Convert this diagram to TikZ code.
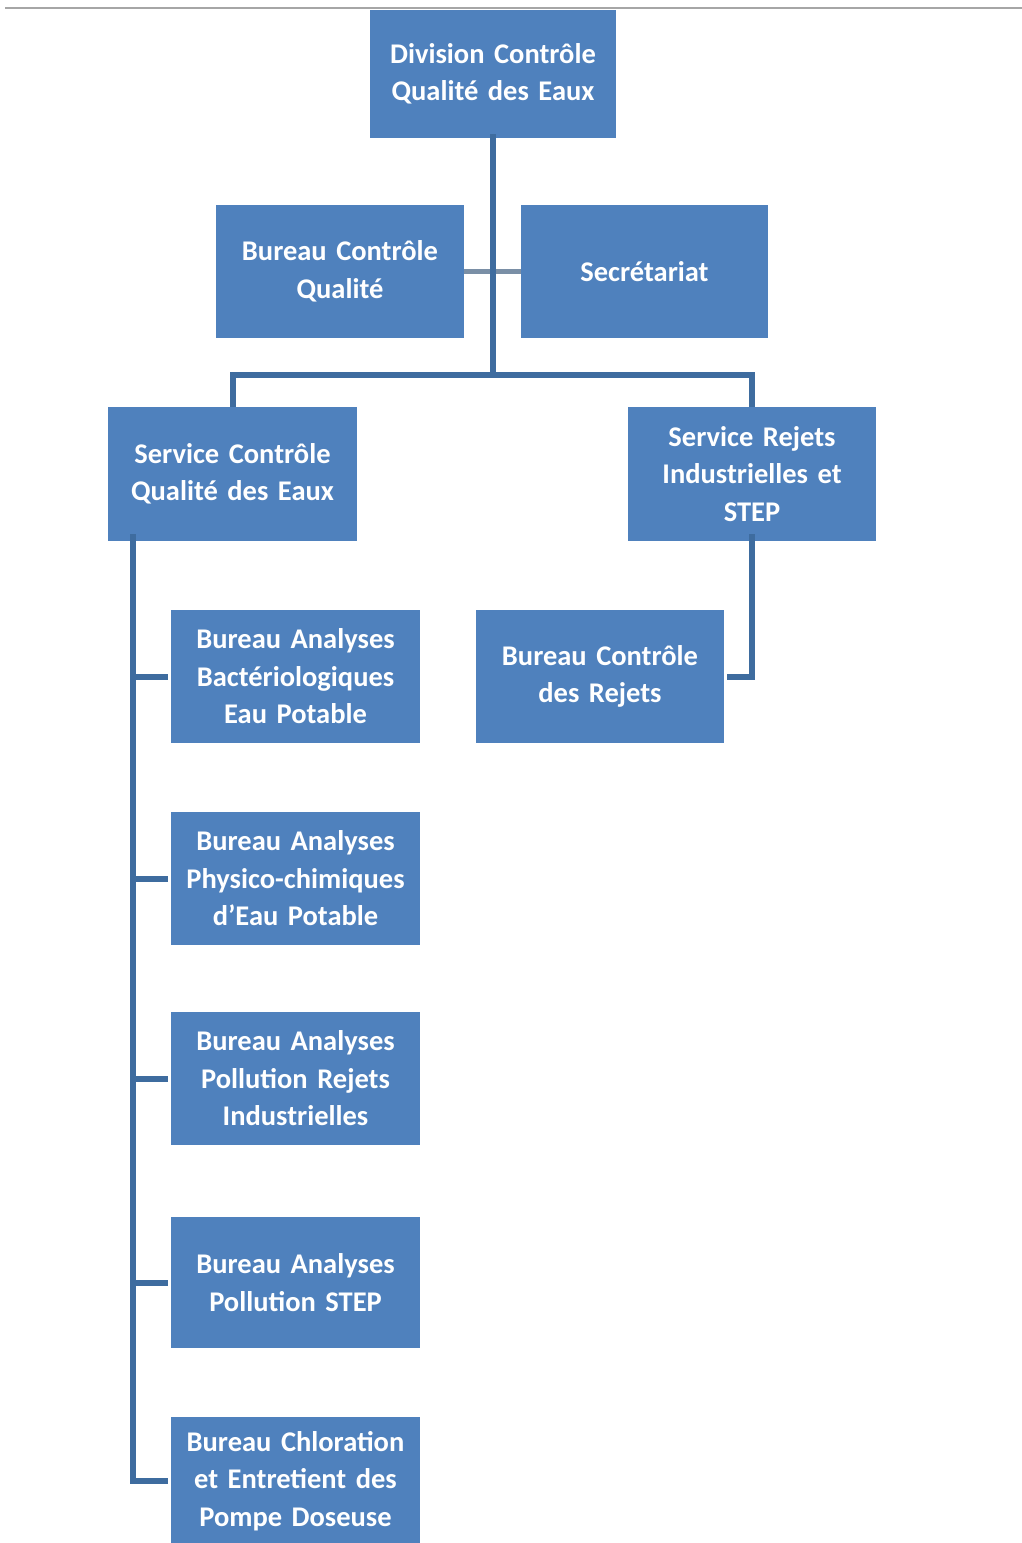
\documentclass[tikz,border=0pt]{standalone}
\usepackage{fontspec}
\setmainfont{Carlito}
\definecolor{boxblue}{HTML}{4F81BD}
\definecolor{linkblue}{HTML}{3E6C9F}
\definecolor{linkgray}{HTML}{7A8FA6}
\definecolor{rulegray}{HTML}{A6A6A6}
\begin{document}
\begin{tikzpicture}[x=1pt,y=-1pt,
  orgbox/.style={fill=boxblue, draw=none, minimum width=248pt, minimum height=133pt,
    text width=244pt, align=center, inner sep=0pt, text=white,
    font=\fontsize{28.5}{37.5}\selectfont\bfseries},
  conn/.style={draw=linkblue, line width=6pt},
  conng/.style={draw=linkgray, line width=5pt}]
\useasboundingbox (0,0) rectangle (1022,1543);
\fill[white] (0,0) rectangle (1022,1543);
\coordinate (rl) at (5,8);
\coordinate (rr) at (1022,8);
\draw[rulegray, line width=2pt] (rl) -- (rr);

\node[orgbox, minimum width=246pt, minimum height=128pt] (div) at (493,74) {Division Contrôle\\Qualité des Eaux\\[34pt]};
\node[orgbox] (bcq) at (340,271.5) {Bureau Contrôle\\Qualité};
\node[orgbox, minimum width=247pt] (sec) at (644.5,271.5) {Secrétariat};
\node[orgbox, minimum width=249pt, minimum height=134pt] (scq) at (232.5,474) {Service Contrôle\\Qualité des Eaux\\[0pt]};
\node[orgbox, minimum width=248pt, minimum height=134pt] (srj) at (752,474) {Service Rejets\\Industrielles et\\STEP};

\node[orgbox, minimum width=249pt] (b1) at (295.5,676.5) {Bureau Analyses\\Bactériologiques\\Eau Potable};
\node[orgbox, minimum width=249pt] (b2) at (295.5,878.5) {Bureau Analyses\\Physico-chimiques\\d’Eau Potable};
\node[orgbox, minimum width=249pt] (b3) at (295.5,1078.5) {Bureau Analyses\\Pollution Rejets\\Industrielles};
\node[orgbox, minimum width=249pt, minimum height=131pt] (b4) at (295.5,1282.5) {Bureau Analyses\\Pollution STEP};
\node[orgbox, minimum width=249pt, minimum height=128pt] (b5) at (295.5,1481) {Bureau Chloration\\et Entretient des\\Pompe Doseuse\\[-4pt]};

\node[orgbox, minimum width=248pt] (bcr) at (600,676.5) {Bureau Contrôle\\des Rejets};

% connectors
\coordinate (j1) at (493,375);
\coordinate (sp) at (133,541);
\draw[conng] (bcq.east) -- (sec.west);
\draw[conn] ([yshift=4pt]div.south) -- (j1);
\draw[conn] (scq.north) |- (j1) -| (srj.north);
\draw[conn] ([yshift=7pt]sp) |- ([xshift=-3pt]b5.west);
\foreach \b in {b1,b2,b3,b4}{
  \draw[conn] (\b.west -| sp) -- ([xshift=-3pt]\b.west);
}
\draw[conn] ([yshift=7pt]srj.south) |- ([xshift=3pt]bcr.east);
\end{tikzpicture}
\end{document}
